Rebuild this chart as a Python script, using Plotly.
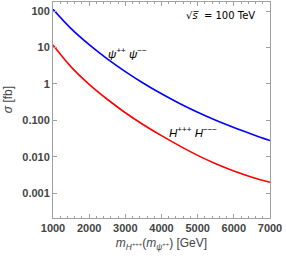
import plotly.graph_objects as go

masses = [1000, 1500, 2000, 2500, 3000, 3500, 4000, 4500, 5000, 5500, 6000, 6500, 7000]
# log10 of cross sections [fb]
psi_log = [2.05, 1.52, 1.08, 0.69, 0.34, 0.02, -0.27, -0.535, -0.775, -0.995, -1.195, -1.38, -1.555]
h_log = [1.07, 0.47, -0.01, -0.42, -0.79, -1.12, -1.42, -1.70, -1.96, -2.19, -2.39, -2.56, -2.70]
psi_sigma = [10 ** v for v in psi_log]
h_sigma = [10 ** v for v in h_log]

y_tickvals = [0.001, 0.01, 0.1, 1, 10, 100]
y_ticktext = ["0.001", "0.010", "0.100", "1", "10", "100"]
x_tickvals = [1000, 2000, 3000, 4000, 5000, 6000, 7000]

tick_font = dict(family="Liberation Sans", size=11, color="#444444", weight="bold")
axis_col = "#a0a0a0"

fig = go.Figure()
fig.add_trace(go.Scatter(x=masses, y=psi_sigma, mode="lines",
                         line=dict(color="#0000ff", width=1.6, shape="spline", smoothing=1),
                         showlegend=False, hoverinfo="skip"))
fig.add_trace(go.Scatter(x=masses, y=h_sigma, mode="lines",
                         line=dict(color="#ff0000", width=1.6, shape="spline", smoothing=1),
                         showlegend=False, hoverinfo="skip"))

fig.update_layout(
    width=286, height=258,
    margin=dict(l=53, r=16, t=2, b=40),
    paper_bgcolor="white", plot_bgcolor="white",
    xaxis=dict(range=[1000, 7000], tickvals=x_tickvals, ticks="inside", ticklen=4,
               tickcolor=axis_col, showline=True, linecolor=axis_col, linewidth=1,
               mirror="allticks", showgrid=False, zeroline=False, tickfont=tick_font,
               minor=dict(dtick=200, ticks="inside", ticklen=2, tickcolor=axis_col, showgrid=False),
               title=dict(text="<i>m</i><sub><i>H</i><sup>+++</sup></sub>(<i>m</i><sub><i>ψ</i><sup>++</sup></sub>) [GeV]",
                          font=dict(family="Liberation Sans", size=12, color="#444444"), standoff=5)),
    yaxis=dict(type="log", range=[-3.68, 2.25], tickvals=y_tickvals, ticktext=y_ticktext,
               ticks="inside", ticklen=4, tickcolor=axis_col, showline=True, linecolor=axis_col,
               linewidth=1, mirror="allticks", showgrid=False, zeroline=False, tickfont=tick_font),
)

fig.add_annotation(xref="paper", yref="paper", x=-0.207, y=0.546, xanchor="center", yanchor="middle",
                   text="<i>σ</i> [fb]", textangle=-90, showarrow=False,
                   font=dict(family="Liberation Sans", size=12, color="#444444"))
fig.add_annotation(x=3070, y=0.85, text="<i>ψ</i><sup>++</sup> <i>ψ</i><sup>−−</sup>",
                   showarrow=False, font=dict(family="Liberation Sans", size=11.5, color="black"))
fig.add_annotation(x=4870, y=-1.31, text="<i>H</i><sup>+++</sup> <i>H</i><sup>−−−</sup>",
                   showarrow=False, font=dict(family="Liberation Sans", size=11.5, color="black"))
fig.add_annotation(x=5645, y=1.89, text="√<i>s\u0305</i>  = 100 TeV",
                   showarrow=False, font=dict(family="DejaVu Sans", size=10, color="black"))

fig.write_html("out.html", config={"displayModeBar": False},
               post_script="document.body.style.margin='0px';")
